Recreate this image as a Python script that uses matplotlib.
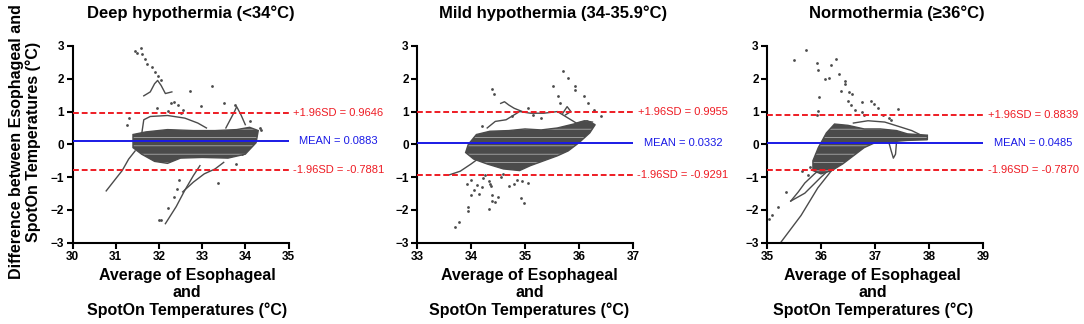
import matplotlib
matplotlib.use("Agg")
import matplotlib.pyplot as plt

plt.rcParams['font.family'] = ['Liberation Sans', 'DejaVu Sans']
plt.rcParams['hatch.linewidth'] = 0.45

# ---- data ----
titles = ["Deep hypothermia (<34°C)", "Mild hypothermia (34-35.9°C)", "Normothermia (≥36°C)"]
xlims = [(30, 35), (33, 37), (35, 39)]
means = [0.0883, 0.0332, 0.0485]
uppers = [0.9646, 0.9955, 0.8839]
lowers = [-0.7881, -0.9291, -0.7870]

# dense cloud outline
deep_core_x = [31.4, 31.7, 32.2, 32.8, 33.3, 33.8, 34.1, 34.3, 34.25, 34.0, 33.6, 33.0, 32.5, 32.2, 31.9, 31.6, 31.4]
deep_core_y = [0.3, 0.38, 0.45, 0.42, 0.42, 0.45, 0.52, 0.42, 0.05, -0.3, -0.42, -0.4, -0.42, -0.58, -0.52, -0.3, -0.1]
mild_core_x = [33.95, 34.1, 34.35, 34.7, 35.0, 35.3, 35.6, 35.9, 36.15, 36.3, 36.2, 36.0, 35.8, 35.6, 35.35, 35.1, 34.9, 34.6, 34.3, 34.05, 33.9]
mild_core_y = [0.0, 0.3, 0.4, 0.42, 0.47, 0.44, 0.5, 0.62, 0.72, 0.6, 0.35, 0.05, -0.2, -0.35, -0.5, -0.65, -0.8, -0.75, -0.6, -0.45, -0.25]
norm_core_x = [35.85, 35.95, 36.1, 36.25, 36.5, 36.8, 37.1, 37.4, 37.6, 37.97, 37.97, 37.6, 37.3, 37.0, 36.8, 36.6, 36.4, 36.2, 36.0, 35.85]
norm_core_y = [-0.5, -0.1, 0.35, 0.62, 0.58, 0.47, 0.47, 0.42, 0.32, 0.28, 0.14, 0.12, 0.08, 0.05, -0.1, -0.35, -0.6, -0.8, -0.9, -0.8]

# continuous traces
deep_traces = [
    ([31.6, 31.65, 31.8, 32.2, 32.6, 32.9, 33.1], [0.3, 0.75, 0.85, 0.88, 0.8, 0.65, 0.5]),
    ([30.78, 31.0, 31.15, 31.3, 31.45], [-1.42, -1.05, -0.8, -0.45, -0.2]),
    ([32.15, 32.4, 32.6, 32.8, 32.95], [-2.42, -1.9, -1.4, -0.95, -0.65]),
    ([32.55, 32.8, 33.05, 33.3, 33.5], [-1.45, -1.15, -0.9, -0.75, -0.55]),
    ([31.65, 31.8, 31.9, 31.97, 32.05, 32.15, 32.3], [1.48, 1.6, 1.85, 1.95, 1.8, 1.55, 1.6]),
    ([33.55, 33.65, 33.75, 33.8, 33.9, 34.0], [0.5, 0.75, 1.0, 1.15, 0.9, 0.6]),
]
mild_traces = [
    ([34.3, 34.45, 34.65, 34.9, 35.1, 35.35, 35.6, 35.75, 35.95, 36.1, 36.25], [0.5, 0.7, 0.75, 1.0, 0.95, 0.95, 1.0, 0.85, 0.65, 0.72, 0.68]),
    ([33.6, 33.8, 34.0, 34.15], [-0.93, -0.82, -0.6, -0.42]),
    ([35.7, 35.78, 35.85, 35.75], [0.95, 1.15, 1.0, 0.9]),
    ([34.55, 34.62, 34.7, 34.8, 34.95], [1.25, 1.3, 1.2, 1.1, 1.0]),
]
norm_traces = [
    ([36.6, 36.87, 37.18, 37.49, 37.68, 37.93], [0.65, 0.72, 0.68, 0.52, 0.42, 0.22]),
    ([35.26, 35.63, 35.94, 36.19, 36.3], [-2.98, -2.17, -1.33, -0.81, -0.5]),
    ([35.44, 35.58, 35.7, 35.88, 36.1], [-1.73, -1.45, -1.18, -0.9, -0.6]),
    ([35.44, 35.7, 36.0, 36.3], [-1.73, -1.49, -1.0, -0.55]),
    ([37.25, 37.3, 37.34, 37.38, 37.4], [0.1, -0.2, -0.42, -0.3, 0.1]),
]

# isolated points
deep_dots_x = [31.45, 31.5, 31.58, 31.62, 31.68, 31.72, 31.85, 31.9, 31.98, 32.05, 32.28, 32.35, 32.45, 32.55,
               32.72, 33.23, 32.97, 33.5, 33.76, 31.95, 32.2, 32.5, 34.1, 34.37, 31.3, 31.25,
               32.05, 32.2, 32.35, 32.43, 32.47, 33.36, 33.78, 33.93, 34.08, 34.24, 34.35, 32.0]
deep_dots_y = [2.85, 2.8, 2.95, 2.75, 2.6, 2.45, 2.35, 2.2, 2.1, 1.95, 1.27, 1.3, 1.2, 1.05,
               1.63, 1.79, 1.17, 1.27, 1.2, 1.1, 1.02, 0.95, 0.7, 0.44, 0.8, 0.6,
               -2.31, -1.93, -1.6, -1.35, -1.09, -1.17, -0.6, -0.28, 0.03, 0.34, 0.5, -2.3]
mild_dots_x = [34.39, 34.42, 35.7, 35.8, 35.51, 35.92, 35.93, 36.09, 36.17, 36.27, 36.4, 35.62, 35.64, 35.05,
               35.15, 35.3, 34.75, 34.2, 34.15,
               33.7, 33.78, 33.94, 33.95, 34.0, 34.05, 34.11, 34.15, 34.2, 34.23, 34.33, 34.35, 34.37,
               34.39, 34.39, 34.45, 34.5, 34.33, 34.7, 34.8, 34.85, 34.92, 34.98, 35.05, 34.95, 34.0,
               33.92, 34.25, 34.55, 34.6]
mild_dots_y = [1.69, 1.53, 2.23, 2.03, 1.77, 1.77, 1.67, 1.46, 1.25, 1.06, 0.87, 1.46, 1.27, 1.1,
               0.9, 0.8, 0.85, 0.55, 0.25,
               -2.53, -2.37, -1.9, -2.03, -1.54, -1.4, -1.23, -1.5, -1.3, -1.02, -1.13, -1.2, -1.27,
               -1.54, -1.73, -1.75, -1.6, -1.96, -1.28, -1.2, -1.1, -1.65, -1.8, -1.18, -1.13, -1.1,
               -1.2, -0.95, -1.0, -0.9]
norm_dots_x = [35.73, 35.5, 35.93, 35.95, 36.18, 36.07, 36.15, 36.27, 36.33, 36.44, 36.45, 36.37, 36.51, 36.58,
               35.96, 36.76, 36.93, 37.42, 35.95, 35.93, 36.5, 36.55, 36.63, 36.75, 36.8, 36.99, 37.05,
               37.15, 37.25, 37.3, 35.04, 35.1, 35.2, 35.35, 35.76, 35.65, 35.8]
norm_dots_y = [2.89, 2.57, 2.47, 2.27, 2.42, 2.0, 2.03, 2.59, 2.16, 1.92, 1.85, 1.63, 1.6, 1.54,
               1.45, 1.29, 1.32, 1.08, 1.02, 0.9, 1.32, 1.2, 1.06, 1.0, 0.9, 1.22, 1.1,
               0.9, 0.8, 0.75, -2.27, -2.15, -1.9, -1.44, -0.92, -0.8, -0.7]

cores = [(deep_core_x, deep_core_y), (mild_core_x, mild_core_y), (norm_core_x, norm_core_y)]
traces = [deep_traces, mild_traces, norm_traces]
dots = [(deep_dots_x, deep_dots_y), (mild_dots_x, mild_dots_y), (norm_dots_x, norm_dots_y)]

# layout (pixels of 1084x324 figure)
lefts = [72.5, 417, 767]
width_px = 216
title_x = [0.547, 0.63, 0.6]
xlab_x = [0.53, 0.52, 0.49]

GREY = "#4b4b4b"
RED = "#ee1c24"
BLUE = "#1a1ae6"

fig = plt.figure(figsize=(10.84, 3.24), dpi=100)
W, H = 1084, 324
for i in range(3):
    ax = fig.add_axes([lefts[i] / W, 1 - 242.7 / H, width_px / W, 196.7 / H])
    cx, cy = cores[i]
    ax.fill(cx, cy, facecolor=GREY, edgecolor="none", zorder=1)
    # faint streaks inside the dense cloud
    ax.fill(cx, cy, facecolor="none", edgecolor="#c8c8c8", hatch="--", lw=0, zorder=1.1)
    ax.fill(cx, cy, facecolor="none", edgecolor=GREY, lw=1.0, zorder=1.2)
    for tx, ty in traces[i]:
        ax.plot(tx, ty, color=GREY, lw=1.0, zorder=1)
    ax.scatter(dots[i][0], dots[i][1], s=4, color=GREY, lw=0, zorder=1)

    ax.axhline(means[i], color=BLUE, lw=1.4, zorder=3)
    ax.axhline(uppers[i], color=RED, lw=1.4, dashes=(3, 1.5), zorder=3)
    ax.axhline(lowers[i], color=RED, lw=1.4, dashes=(3, 1.5), zorder=3)

    lab = [("+1.96SD = %.4f" % uppers[i], uppers[i], RED),
           ("MEAN = %.4f" % means[i], means[i], BLUE),
           ("-1.96SD = %.4f" % lowers[i], lowers[i], RED)]
    for s, v, c in lab:
        ax.annotate(s, xy=(1, v), xycoords=('axes fraction', 'data'), xytext=(36, 0),
                    textcoords='offset points', ha='center', va='center', color=c, fontsize=8)

    ax.set_xlim(*xlims[i])
    ax.set_ylim(-3, 3)
    ax.set_xticks(range(xlims[i][0], xlims[i][1] + 1))
    ax.set_yticks(range(-3, 4))
    for sp in ['top', 'right']:
        ax.spines[sp].set_visible(False)
    for sp in ['left', 'bottom']:
        ax.spines[sp].set_linewidth(1.5)
    ax.tick_params(direction='out', length=4, width=1.5, pad=2, labelsize=8.5)
    for t in ax.get_xticklabels() + ax.get_yticklabels():
        t.set_fontweight('bold')

    ax.text(title_x[i], 1.168, titles[i], transform=ax.transAxes, ha='center', va='center',
            fontsize=12, fontweight='bold')
    ax.text(xlab_x[i], -0.256, "Average of Esophageal\nand\nSpotOn Temperatures (°C)",
            transform=ax.transAxes, ha='center', va='center', fontsize=11.5, fontweight='bold',
            linespacing=1.15)
    if i == 0:
        ax.text(-0.221, 0.514, "Difference between Esophageal and\nSpotOn Temperatures (°C)",
                transform=ax.transAxes, ha='center', va='center', rotation=90,
                fontsize=11.5, fontweight='bold', linespacing=1.15)

fig.savefig("out.png", dpi=100)
